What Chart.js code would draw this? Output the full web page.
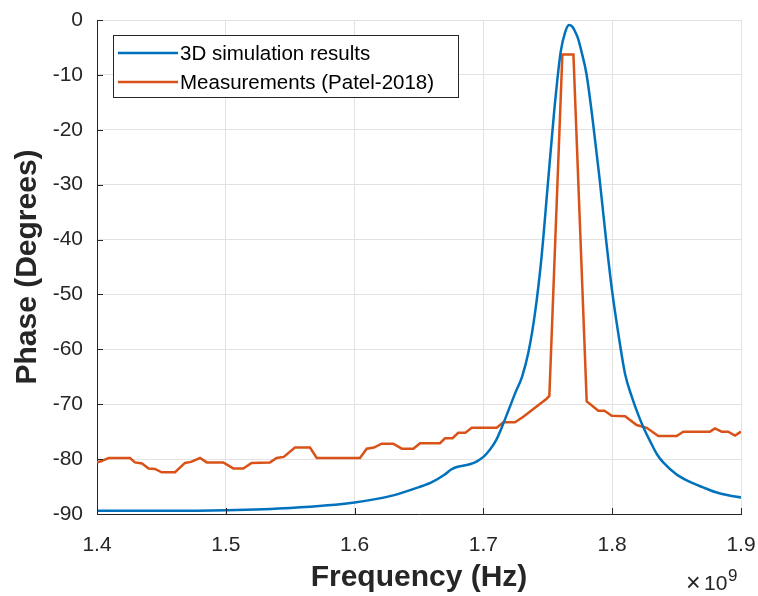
<!DOCTYPE html>
<html>
<head>
<meta charset="utf-8">
<script src="https://cdn.jsdelivr.net/npm/chart.js@4/dist/chart.umd.min.js"></script>
<style>
  html, body { margin: 0; padding: 0; background: #fff; }
  #wrap { width: 758px; height: 596px; }
</style>
</head>
<body>
<div id="wrap"><canvas id="c" width="758" height="596"></canvas></div>
<script>
// Frequency in units of 1e9 Hz
const simFreq = [1.40, 1.45, 1.50, 1.55, 1.60, 1.63, 1.65, 1.66, 1.67, 1.675, 1.68, 1.69, 1.695, 1.70, 1.705, 1.71, 1.715, 1.72, 1.725, 1.73, 1.735, 1.74, 1.745, 1.75, 1.755, 1.76, 1.7635, 1.7665, 1.769, 1.771, 1.7735, 1.776, 1.78, 1.785, 1.79, 1.795, 1.80, 1.805, 1.81, 1.815, 1.82, 1.825, 1.83, 1.835, 1.84, 1.85, 1.86, 1.87, 1.88, 1.89, 1.90];
const simPhase = [-89.4, -89.4, -89.3, -88.9, -87.9, -86.6, -85.1, -84.2, -82.8, -81.9, -81.4, -80.9, -80.4, -79.6, -78.3, -76.5, -73.8, -70.8, -67.8, -65.0, -60.5, -53.5, -43.5, -30.0, -16.5, -5.8, -2.2, -0.9, -1.2, -2.0, -3.4, -5.6, -9.8, -18.5, -28.5, -39.5, -49.5, -57.5, -64.5, -68.5, -71.8, -74.6, -77.0, -79.2, -80.7, -82.8, -84.1, -85.1, -86.0, -86.6, -87.0];

const measFreq = [1.400, 1.403, 1.409, 1.4256, 1.4295, 1.435, 1.440, 1.445, 1.4502, 1.4606, 1.4683, 1.473, 1.480, 1.4852, 1.498, 1.5058, 1.5136, 1.520, 1.5343, 1.5395, 1.545, 1.5537, 1.5654, 1.5706, 1.6042, 1.6094, 1.615, 1.621, 1.630, 1.6366, 1.6456, 1.6508, 1.6663, 1.6702, 1.676, 1.6805, 1.686, 1.6909, 1.7103, 1.7155, 1.7245, 1.731, 1.7491, 1.7512, 1.7613, 1.7699, 1.7802, 1.783, 1.7892, 1.794, 1.7996, 1.810, 1.819, 1.8268, 1.8358, 1.850, 1.8552, 1.8759, 1.8798, 1.885, 1.890, 1.8953, 1.900];
const measPhase = [-80.6, -80.4, -79.8, -79.8, -80.6, -80.8, -81.7, -81.8, -82.4, -82.4, -80.7, -80.5, -79.8, -80.6, -80.6, -81.7, -81.7, -80.7, -80.6, -79.8, -79.6, -77.9, -77.9, -79.8, -79.8, -78.1, -77.9, -77.2, -77.2, -78.1, -78.1, -77.1, -77.1, -76.2, -76.2, -75.2, -75.2, -74.3, -74.3, -73.3, -73.3, -72.3, -69.0, -68.5, -6.3, -6.3, -69.5, -70.0, -71.2, -71.2, -72.1, -72.2, -73.8, -74.3, -75.8, -75.8, -75.0, -75.0, -74.4, -75.0, -75.0, -75.7, -75.0];

const xTicks = [1.4, 1.5, 1.6, 1.7, 1.8, 1.9];
const yTicks = [0, -10, -20, -30, -40, -50, -60, -70, -80, -90];

const seriesLabels = ['3D simulation results', 'Measurements (Patel-2018)'];
const seriesColors = ['#0072BD', '#D95319'];

const toPts = (xs, ys) => xs.map((x, i) => ({ x: x, y: ys[i] }));

const AXIS = '#262626';
const GRID = '#e2e2e2';
const FONT = '"Liberation Sans", Arial, sans-serif';

const extrasPlugin = {
  id: 'extras',
  afterDatasetsDraw(chart) {
    const { ctx, chartArea: a, scales: { x, y } } = chart;
    ctx.save();
    // inward tick marks
    ctx.strokeStyle = AXIS;
    ctx.lineWidth = 1;
    ctx.beginPath();
    xTicks.forEach(t => {
      const px = Math.round(x.getPixelForValue(t)) + 0.5;
      ctx.moveTo(px, a.bottom);
      ctx.lineTo(px, a.bottom - 6);
    });
    yTicks.forEach(t => {
      const py = Math.round(y.getPixelForValue(t)) + 0.5;
      ctx.moveTo(a.left, py);
      ctx.lineTo(a.left + 6, py);
    });
    ctx.stroke();

    // legend box
    const bx = 113.5, by = 35.5, bw = 345, bh = 62;
    ctx.fillStyle = '#fff';
    ctx.fillRect(bx, by, bw, bh);
    ctx.strokeStyle = AXIS;
    ctx.lineWidth = 1;
    ctx.strokeRect(bx, by, bw, bh);
    ctx.font = '20.5px ' + FONT;
    ctx.textBaseline = 'middle';
    ctx.textAlign = 'left';
    const rows = [53, 82];
    chart.data.datasets.forEach((ds, i) => {
      ctx.strokeStyle = ds.borderColor;
      ctx.lineWidth = 2.5;
      ctx.beginPath();
      ctx.moveTo(118, rows[i]);
      ctx.lineTo(178, rows[i]);
      ctx.stroke();
      ctx.fillStyle = '#000';
      ctx.fillText(ds.label, 180, rows[i] + 1);
    });

    // exponent label
    ctx.fillStyle = AXIS;
    ctx.textBaseline = 'alphabetic';
    ctx.textAlign = 'left';
    ctx.font = '25px ' + FONT;
    ctx.fillText('\u00d7', 686, 591);
    ctx.font = '21px ' + FONT;
    ctx.fillText('10', 704, 590);
    ctx.font = '17px ' + FONT;
    ctx.fillText('9', 728, 581);
    ctx.restore();
  }
};

new Chart(document.getElementById('c'), {
  type: 'line',
  data: {
    datasets: [
      { label: seriesLabels[0], data: toPts(simFreq, simPhase), borderColor: seriesColors[0], borderWidth: 2.5, pointRadius: 0, tension: 0.3, cubicInterpolationMode: 'monotone', fill: false },
      { label: seriesLabels[1], data: toPts(measFreq, measPhase), borderColor: seriesColors[1], borderWidth: 2.5, pointRadius: 0, tension: 0, fill: false }
    ]
  },
  options: {
    responsive: false,
    animation: false,
    devicePixelRatio: 1,
    layout: { padding: { top: 20, right: 17, left: 0, bottom: 0 } },
    plugins: { legend: { display: false }, tooltip: { enabled: false } },
    scales: {
      x: {
        type: 'linear',
        min: 1.4, max: 1.9,
        afterBuildTicks: s => { s.ticks = xTicks.map(v => ({ value: v })); },
        afterFit: s => { s.height = 82; s.paddingLeft = 0; s.paddingRight = 0; },
        ticks: { color: AXIS, font: { family: FONT, size: 21 }, padding: 19, maxRotation: 0, callback: v => v.toFixed(1) },
        grid: { color: GRID, drawTicks: false },
        border: { color: AXIS, width: 1 },
        title: { display: true, text: 'Frequency (Hz)', color: AXIS, font: { family: FONT, size: 30, weight: 'bold' }, padding: { top: 0, bottom: 0 } }
      },
      y: {
        type: 'linear',
        min: -90, max: 0,
        afterBuildTicks: s => { s.ticks = yTicks.map(v => ({ value: v })); },
        afterFit: s => { s.width = 97; s.paddingTop = 0; s.paddingBottom = 0; },
        ticks: { color: AXIS, font: { family: FONT, size: 21 }, padding: 14, callback: v => String(v) },
        grid: { color: GRID, drawTicks: false },
        border: { color: AXIS, width: 1 },
        title: { display: true, text: 'Phase (Degrees)', color: AXIS, font: { family: FONT, size: 30, weight: 'bold' }, padding: { top: 10, bottom: 0 } }
      }
    }
  },
  plugins: [extrasPlugin]
});
</script>
</body>
</html>
